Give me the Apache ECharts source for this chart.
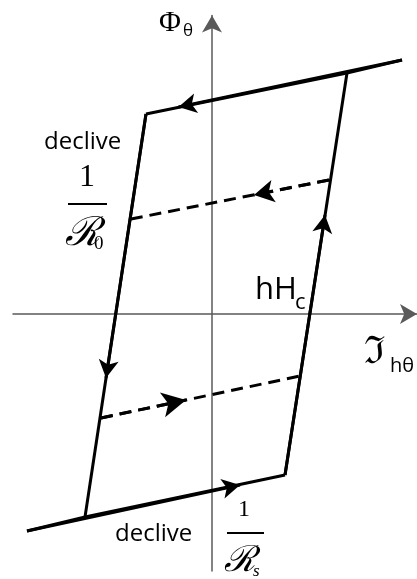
<!DOCTYPE html>
<html>
<head>
<meta charset="utf-8">
<style>
  html, body { margin: 0; padding: 0; background: #fff; }
  #chart { width: 417px; height: 579px; }
</style>
<script src="https://cdn.jsdelivr.net/npm/echarts@6/dist/echarts.min.js"></script>
</head>
<body>
<div id="chart"></div>
<script>
// Hysteresis loop: flux Φθ against magnetomotive force ℑhθ.
// Corner points of the major loop [x, y].
const bottomBranch = [[-18.5, -21.7], [-12.7, -20.3], [7.3, -16.1]];
const risingBranch = [[7.3, -16.1], [13.5, 24.1]];
const topBranch = [[19.0, 25.4], [13.5, 24.1], [-6.6, 20.0]];
const fallingBranch = [[-6.6, 20.0], [-12.7, -20.3]];
// Minor (recoil) lines, drawn dashed.
const upperRecoil = [[11.7, 13.4], [-8.1, 9.5]];
const lowerRecoil = [[-11.1, -10.4], [8.8, -6.2]];
// Where the direction arrow sits on each branch.
const arrowBottom = [2.8, -17.1];
const arrowRising = [11.3, 9.9];
const arrowTop = [-3.35, 20.7];
const arrowFalling = [-10.6, -6.4];
const arrowUpperRecoil = [4.2, 11.9];
const arrowLowerRecoil = [-2.6, -8.6];
// Axis extents.
const xRange = [-19.9, 20.5];
const yRange = [-25.7, 29.85];

const INK = '#000';
const SOLID = { color: INK, width: 3, type: 'solid' };
const DASHED = { color: INK, width: 3, type: [12, 7] };

function branch(points, arrowAt, style, arrowSize) {
  return {
    type: 'line',
    data: points,
    symbol: 'none',
    silent: true,
    lineStyle: style,
    animation: false,
    markLine: {
      silent: true,
      animation: false,
      symbol: ['none', 'arrow'],
      symbolSize: arrowSize,
      label: { show: false },
      lineStyle: style,
      emphasis: { disabled: true },
      data: [[{ coord: points[0] }, { coord: arrowAt }]]
    }
  };
}

const chart = echarts.init(document.getElementById('chart'), null, { renderer: 'canvas' });

const axisCommon = {
  type: 'value',
  axisTick: { show: false },
  axisLabel: { show: false },
  splitLine: { show: false }
};

const SANS = '"Open Sans", "DejaVu Sans", sans-serif';
const SERIF = '"Liberation Serif", "DejaVu Serif", serif';
const SCRIPT = '"DejaVu Serif", "Liberation Serif", serif';

function txt(text, x, y, font, align) {
  return {
    type: 'text', x: x, y: y, silent: true,
    style: { text: text, font: font, fill: INK, textAlign: align || 'left', textVerticalAlign: 'middle' }
  };
}
function bar(x1, x2, y) {
  return {
    type: 'line', silent: true,
    shape: { x1: x1, y1: y, x2: x2, y2: y },
    style: { stroke: INK, lineWidth: 2 }
  };
}

chart.setOption({
  backgroundColor: '#fff',
  animation: false,
  grid: { left: 13, right: 0, top: 15.5, bottom: 8, containLabel: false },
  xAxis: Object.assign({}, axisCommon, {
    min: xRange[0], max: xRange[1],
    axisLine: { onZero: true, symbol: ['none', 'arrow'], symbolSize: [15, 17],
      lineStyle: { color: '#5a5a5a', width: 1.5 } }
  }),
  yAxis: Object.assign({}, axisCommon, {
    min: yRange[0], max: yRange[1],
    axisLine: { onZero: true, symbol: ['none', 'arrow'], symbolSize: [15, 17],
      lineStyle: { color: '#5a5a5a', width: 1.5 } }
  }),
  series: [
    branch(bottomBranch, arrowBottom, SOLID, [15, 18]),
    branch(risingBranch, arrowRising, SOLID, [15, 18]),
    branch(topBranch, arrowTop, SOLID, [15, 18]),
    branch(fallingBranch, arrowFalling, SOLID, [15, 18]),
    branch(upperRecoil, arrowUpperRecoil, DASHED, [17, 20]),
    branch(lowerRecoil, arrowLowerRecoil, DASHED, [19, 24])
  ],
  graphic: [
    txt('Φ', 170, 23, '30px ' + SERIF, 'center'),
    txt('θ', 183, 31, '17px ' + SANS),
    txt('declive', 44, 142, '24px ' + SANS),
    txt('1', 87, 178, '32px ' + SERIF, 'center'),
    bar(68, 107, 204),
    txt('ℛ', 65, 235, 'italic 40px ' + SCRIPT),
    txt('0', 94, 244, '19px ' + SERIF),
    txt('hH', 255, 290, '31px ' + SANS),
    txt('c', 295, 303, '22px ' + SANS),
    txt('ℑ', 364, 353, '38px ' + SCRIPT),
    txt('hθ', 390, 366, '20px ' + SANS),
    txt('declive', 115, 534, '24px ' + SANS),
    txt('1', 244, 510, '24px ' + SERIF, 'center'),
    bar(227, 264, 533),
    txt('ℛ', 224, 562, 'italic 36px ' + SCRIPT),
    txt('s', 253, 572, 'italic 17px ' + SERIF)
  ]
});
</script>
</body>
</html>
